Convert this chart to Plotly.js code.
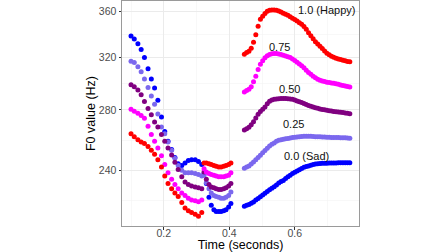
<!DOCTYPE html>
<html>
<head>
<meta charset="utf-8">
<script src="https://cdn.plot.ly/plotly-3.0.1.min.js"></script>
<style>html,body{margin:0;padding:0;background:#fff;}#chart{width:448px;height:252px;}</style>
</head>
<body>
<div id="chart"></div>
<script>
// Time points (seconds) of the three voiced segments
const xSeg1 = [0.100,0.110,0.121,0.131,0.141,0.152,0.162,0.172,0.182,0.193,0.203,0.213,0.224,0.234,0.244,0.255,0.265,0.275,0.285,0.296,0.306,0.316];
const xSeg2 = [0.323,0.330,0.338,0.345,0.353,0.360,0.368,0.375,0.383,0.390,0.398,0.405];
const xSeg3 = [0.446,0.453,0.460,0.467,0.474,0.481,0.488,0.495,0.502,0.509,0.516,0.523,0.530,0.537,0.544,0.551,0.558,0.565,0.572,0.579,0.586,0.593,0.600,0.607,0.614,0.621,0.628,0.635,0.642,0.649,0.656,0.663,0.670,0.677,0.684,0.691,0.698,0.705,0.712,0.719,0.726,0.733,0.740,0.747,0.754,0.761,0.768];

// F0 values (Hz) per emotion level
const sad1 = [338,335.5,331.5,326.5,320,311,303,296,287,275,265,258.5,253,248,244,243,244.5,246,246.5,246.5,245.5,243.5];
const sad2 = [238,232,224,219.5,217,216,216,216,216.5,217,218.5,220.5];
const sad3 = [219,219.5,220,220.7,221.4,222.5,223.4,224.3,225.3,226.3,227.3,228.4,229.3,230.2,231.2,232.3,233.2,233.9,235,236,237,238,238.8,239.6,240.4,241.1,241.8,242.3,242.7,243.1,243.5,243.9,244.1,244.2,244.3,244.4,244.4,244.5,244.5,244.5,244.5,244.6,244.6,244.6,244.7,244.7,244.7];

const q1a = [317,316,312.5,308.5,303,296.5,290,284,277,268,263.5,258,252.5,247.5,243,240,238.5,238.5,238.5,238,237.5,236.5];
const q1b = [237,232.5,229,226.5,225,224.5,224,223.5,223.5,224,225,227];
const q1c = [241.2,242,242.7,243.9,245.2,246.6,248,249.4,250.9,252.4,253.9,255.3,256.4,257.3,258.4,259.1,259.5,259.8,260.1,260.3,260.6,260.9,261.1,261.3,261.5,261.6,261.7,261.7,261.7,261.7,261.6,261.5,261.5,261.4,261.3,261.2,261.1,261.1,261,261,260.9,260.9,260.8,260.8,260.7,260.6,260.5];

const mid1 = [298.5,297,294.5,291,286,281,276.5,271.5,268,263,258.5,254,249.5,245,240.5,236,233,231.5,230.5,230,229.5,229];
const mid2 = [239,234.5,231.5,230,229.5,229,228.5,228.5,229,229.5,230.5,232];
const mid3 = [265.9,266.8,267.8,269.6,271.6,274.3,276.8,278.8,280.5,282,284.3,286.2,287.1,287.6,287.9,288.1,288.2,288.3,288.2,288.1,287.9,287.6,287.1,286.4,285.8,285.2,284.5,283.9,283.2,282.6,282,281.5,281.1,280.6,280.3,280,279.7,279.4,279.2,278.9,278.7,278.5,278.3,278.1,277.8,277.5,277.3];

const q3a = [280.5,279,277.5,276,274,268.5,263,258.5,254,249,243.5,238.5,234.5,231.5,229,226.5,225,223.5,222.5,222,221.5,222.5];
const q3b = [241,239,238,237.5,237,236.5,236,236,236,236.5,237,238.5];
const q3c = [293.1,294.1,295.1,296.9,300.7,305,310.3,314.5,317.4,319.8,321.5,322.5,323.1,323.2,323.2,322.9,322.4,321.9,321.3,320.6,320,318.8,317.5,316.1,314.8,313.4,311.8,309.8,308,306.6,305.1,303.8,302.7,301.9,301.3,300.9,300.5,300.2,299.9,299.6,299.2,298.8,298.4,298,297.5,297.1,296.7];

const happy1 = [263.5,261.5,259.5,258,257,255,252.5,250,246.5,242,236.5,232,229,226.5,224.5,221,218,216.5,215.5,214.5,213.5,215.5];
const happy2 = [244.5,244.5,244,243.5,243,242.5,242,242,242.5,243,243.5,244.5];
const happy3 = [322.7,324,325.2,327.7,332.7,339,346.5,352.7,355.5,358,360,361,361.3,361.3,361,360.2,359.3,358.3,357.3,356.3,355,353.6,352.5,351.3,349.7,348.3,346.2,343.8,340.8,338.2,335.7,333.1,331.2,329.2,327.4,325.4,323.5,322.3,321.1,320.2,319.4,318.8,318.4,317.8,317.3,316.8,316.5];

const seriesNames = ['0.0 (Sad)','0.25','0.50','0.75','1.0 (Happy)'];
const seriesColors = ['#0000FF','#7B68EE','#800080','#FF00FF','#FF0000'];
const seriesData = [[sad1,sad2,sad3],[q1a,q1b,q1c],[mid1,mid2,mid3],[q3a,q3b,q3c],[happy1,happy2,happy3]];

// Labels next to curves
const labelText = ['1.0 (Happy)','0.75','0.50','0.25','0.0 (Sad)'];
const labelX = [0.696,0.552,0.583,0.596,0.637];
const labelY = [360.9,328.7,295.6,269.9,248.7];

// Axis ticks
const xTicks = [0.2,0.4,0.6];
const xTickText = ['0.2','0.4','0.6'];
const xMinor = [0.1,0.3,0.5,0.7];
const yTicks = [240,280,320,360];
const yTickText = ['240','280','320','360'];
const yMinor = [222.2,259.2,299.3,339.4];

const xAll = xSeg1.concat(xSeg2, xSeg3);
const traces = seriesData.map((segs, i) => ({
  type: 'scatter', mode: 'markers', name: seriesNames[i],
  x: xAll, y: segs[0].concat(segs[1], segs[2]),
  marker: {color: seriesColors[i], size: 5, line: {width: 0}},
  hoverinfo: 'skip'
}));

const font = 'Liberation Sans, Arial, sans-serif';
const layout = {
  width: 448, height: 252,
  margin: {l: 122, r: 89, t: 1, b: 26, pad: 0},
  paper_bgcolor: '#fff', plot_bgcolor: '#fff',
  showlegend: false,
  font: {family: font},
  xaxis: {
    range: [0.0725, 0.796], tickmode: 'array', tickvals: xTicks, ticktext: xTickText,
    ticks: 'outside', ticklen: 2.5, tickcolor: '#333', tickwidth: 1,
    ticklabelstandoff: -5,
    showgrid: true, gridcolor: '#EBEBEB', gridwidth: 1, zeroline: false,
    showline: true, linecolor: '#9a9a9a', linewidth: 1, mirror: true,
    tickfont: {family: font, size: 10.5, color: '#4D4D4D'},
    minor: {tickmode: 'array', tickvals: xMinor, showgrid: true, gridcolor: '#F4F4F4', gridwidth: 0.6, ticks: ''},
    title: {text: 'Time (seconds)', font: {family: font, size: 12.5, color: '#000'}, standoff: 9}
  },
  yaxis: {
    type: 'log', range: [2.3185, 2.5677], tickmode: 'array', tickvals: yTicks, ticktext: yTickText,
    ticks: 'outside', ticklen: 2.5, tickcolor: '#333', tickwidth: 1,
    showgrid: true, gridcolor: '#EBEBEB', gridwidth: 1, zeroline: false,
    showline: true, linecolor: '#9a9a9a', linewidth: 1, mirror: true,
    tickfont: {family: font, size: 10.5, color: '#4D4D4D'},
    minor: {tickmode: 'array', tickvals: yMinor, showgrid: true, gridcolor: '#F4F4F4', gridwidth: 0.6, ticks: ''},
    title: {text: 'F0 value (Hz)', font: {family: font, size: 12.5, color: '#000'}, standoff: 0}
  },
  annotations: labelText.map((t, i) => ({
    text: t, x: labelX[i], y: Math.log10(labelY[i]), xref: 'x', yref: 'y',
    showarrow: false, xanchor: 'center', yanchor: 'middle',
    font: {family: font, size: 11, color: '#111'}
  }))
};

Plotly.newPlot('chart', traces, layout, {staticPlot: true, displayModeBar: false});
</script>
</body>
</html>
